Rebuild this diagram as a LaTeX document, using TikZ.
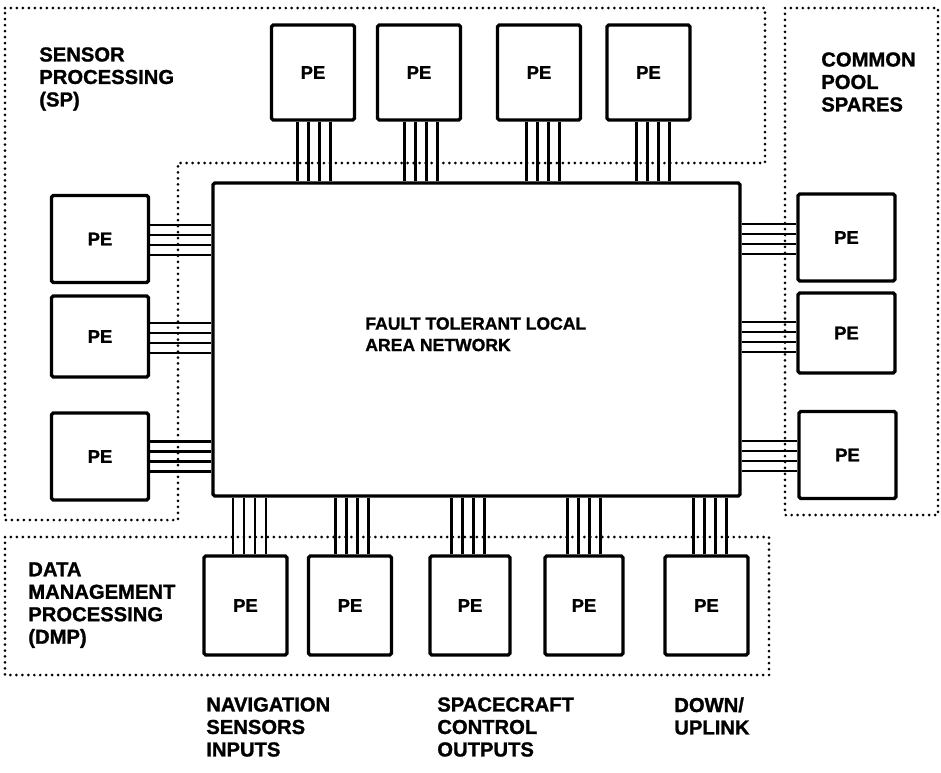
\documentclass[tikz,border=0pt]{standalone}
\usepackage{fontspec}
\setmainfont{Liberation Sans}[BoldFeatures={FakeBold=1.2}]
\usetikzlibrary{positioning}

\begin{document}
\begin{tikzpicture}[
        x=0.02cm, y=-0.02cm,
        pe/.style={rectangle, draw, line width=1.9pt, rounded corners=1pt, minimum width=1.66cm, minimum height=1.9cm, inner sep=0pt, font=\bfseries\fontsize{10.5}{12}\selectfont},
        side/.style={pe, minimum width=1.94cm, minimum height=1.74cm},
        net/.style={rectangle, draw, line width=1.9pt, rounded corners=1pt, minimum width=10.54cm, minimum height=6.26cm},
        region/.style={line width=1.7pt, line cap=round, dash pattern=on 0pt off 3.4pt},
        bus/.style={line width=1.4pt},
        grouptext/.style={align=left, anchor=north west, inner sep=0pt, font=\bfseries\fontsize{11.5}{12.8}\selectfont},
    ]
        \useasboundingbox (0,0) rectangle (941,772);

        % dotted groupings
        \draw[region] (5,8) -- (765,8) -- (765,163) -- (178,163) -- (178,520) -- (5,520) -- cycle;
        \draw[region] (785,8) rectangle (938,515);
        \draw[region] (5,537) rectangle (769,675);

        \node[net] (net) at (476.5,339.5) {};
        \node[grouptext, font=\bfseries\fontsize{10}{12.2}\selectfont] (netname) at (365,317) {FAULT TOLERANT LOCAL\\AREA NETWORK};

        % processing elements
        \node[pe] (t1) at (313,72.5) {PE};
        \node[pe] (t2) at (419,72.5) {PE};
        \node[pe] (t3) at (539,72.5) {PE};
        \node[pe] (t4) at (648.5,72.5) {PE};

        \node[side] (l1) at (100,239) {PE};
        \node[side, minimum height=1.62cm] (l2) at (100,336.5) {PE};
        \node[side] (l3) at (100,456.5) {PE};

        \node[side] (r1) at (846.5,237.5) {PE};
        \node[side, minimum height=1.6cm] (r2) at (846.5,333) {PE};
        \node[side] (r3) at (847.5,455) {PE};

        \node[pe, minimum height=1.98cm] (b1) at (245.5,605.5) {PE};
        \node[pe, minimum height=1.98cm] (b2) at (350,605.5) {PE};
        \node[pe, minimum height=1.98cm, minimum width=1.6cm] (b3) at (470,605.5) {PE};
        \node[pe, minimum height=1.98cm, minimum width=1.56cm] (b4) at (584,605.5) {PE};
        \node[pe, minimum height=1.98cm] (b5) at (706.5,605.5) {PE};

        % four-wire links into the network
        \foreach \p/\s in {t1/1, t2/2, t3/4, t4/4.5}
            \foreach \d in {-16.5,-5.5,5.5,16.5}
                \draw[bus] ([xshift={\d*0.02cm+\s*0.02cm}]\p.south) -- ([xshift={\d*0.02cm+\s*0.02cm}]\p.south |- net.north);
        \foreach \p/\s in {b1/4, b2/2, b3/-2, b4/0, b5/3.5}
            \foreach \d in {-16.5,-5.5,5.5,16.5}
                \draw[bus] ([xshift={\d*0.02cm+\s*0.02cm}]\p.north) -- ([xshift={\d*0.02cm+\s*0.02cm}]\p.north |- net.south);
        \foreach \p/\s in {l1/1, l2/1.5, l3/0}
            \foreach \d in {-15,-5,5,15}
                \draw[bus] ([yshift={\d*0.02cm-\s*0.02cm}]\p.east) -- ([yshift={\d*0.02cm-\s*0.02cm}]\p.east -| net.west);
        \foreach \p/\s in {r1/1.5, r2/4, r3/1}
            \foreach \d in {-15,-5,5,15}
                \draw[bus] ([yshift={\d*0.02cm-\s*0.02cm}]\p.west) -- ([yshift={\d*0.02cm-\s*0.02cm}]\p.west -| net.east);

        % group names
        \node[grouptext] (sp) at (39,47) {SENSOR\\PROCESSING\\(SP)};
        \node[grouptext] (spares) at (821,52) {COMMON\\POOL\\SPARES};
        \node[grouptext] (dmp) at (28,562) {DATA\\MANAGEMENT\\PROCESSING\\(DMP)};

        \node[grouptext] (nav) at (206,697) {NAVIGATION\\SENSORS\\INPUTS};
        \node[grouptext] (ctrl) at (437,697) {SPACECRAFT\\CONTROL\\OUTPUTS};
        \node[grouptext] (link) at (674,697) {DOWN/\\UPLINK};
    \end{tikzpicture}
\end{document}
